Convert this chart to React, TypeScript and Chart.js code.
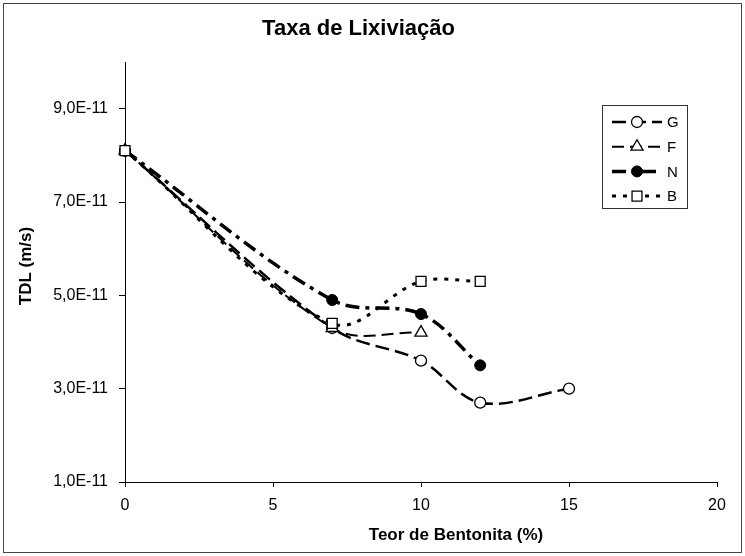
import React, { useEffect, useRef } from "react";
import { Chart, registerables } from "chart.js";

Chart.register(...registerables);

const chartTitle = "Taxa de Lixiviação";
const xAxisTitle = "Teor de Bentonita (%)";
const yAxisTitle = "TDL (m/s)";

const seriesNames = ["G", "F", "N", "B"];
const xG = [0, 7, 10, 12, 15];
const yG = [8.1e-11, 4.3e-11, 3.6e-11, 2.7e-11, 3.0e-11];
const xF = [0, 7, 10];
const yF = [8.1e-11, 4.3e-11, 4.2e-11];
const xN = [0, 7, 10, 12];
const yN = [8.1e-11, 4.9e-11, 4.6e-11, 3.5e-11];
const xB = [0, 7, 10, 12];
const yB = [8.1e-11, 4.4e-11, 5.3e-11, 5.3e-11];

const xTickValues = [0, 5, 10, 15, 20];
const xTickLabels = ["0", "5", "10", "15", "20"];
const yTickValues = [1e-11, 3e-11, 5e-11, 7e-11, 9e-11];
const yTickLabels = ["1,0E-11", "3,0E-11", "5,0E-11", "7,0E-11", "9,0E-11"];

const FONT = '"Liberation Sans", Arial, Helvetica, sans-serif';

const toPoints = (xs: number[], ys: number[]) => xs.map((x, i) => ({ x, y: ys[i] }));

const frameAndTextPlugin = {
  id: "frameAndText",
  beforeDraw(chart: any) {
    const ctx = chart.ctx;
    ctx.save();
    ctx.fillStyle = "#fff";
    ctx.fillRect(0, 0, chart.width, chart.height);
    ctx.strokeStyle = "#444";
    ctx.lineWidth = 1;
    ctx.strokeRect(3.5, 3.5, chart.width - 7, chart.height - 7);
    ctx.restore();
  },
  afterDraw(chart: any) {
    const ctx = chart.ctx;
    ctx.save();
    ctx.fillStyle = "#000";
    ctx.font = `bold 17px ${FONT}`;
    ctx.textAlign = "center";
    ctx.textBaseline = "middle";
    ctx.fillText(xAxisTitle, 456, 535);
    ctx.save();
    ctx.translate(26, 266);
    ctx.rotate(-Math.PI / 2);
    ctx.fillText(yAxisTitle, 0, 0);
    ctx.restore();

    const bx = 602.5, by = 105.5, bw = 85, bh = 103;
    ctx.fillStyle = "#fff";
    ctx.fillRect(bx, by, bw, bh);
    ctx.strokeStyle = "#333";
    ctx.lineWidth = 1;
    ctx.strokeRect(bx, by, bw, bh);
    [0, 1, 2, 3].forEach((i) => {
      const ds: any = chart.data.datasets[i];
      const y = 122 + i * 24.7;
      ctx.save();
      ctx.strokeStyle = ds.borderColor;
      ctx.lineWidth = ds.borderWidth;
      ctx.setLineDash(ds.borderDash || []);
      ctx.beginPath();
      ctx.moveTo(612, y);
      ctx.lineTo(662, y);
      ctx.stroke();
      ctx.setLineDash([]);
      const mx = 637;
      const r = ds.pointRadius;
      ctx.lineWidth = ds.pointBorderWidth;
      ctx.strokeStyle = ds.pointBorderColor;
      ctx.fillStyle = ds.pointBackgroundColor;
      ctx.beginPath();
      if (ds.pointStyle === "circle") {
        ctx.arc(mx, y, r, 0, Math.PI * 2);
      } else if (ds.pointStyle === "triangle") {
        ctx.moveTo(mx, y - r);
        ctx.lineTo(mx + r * 0.866, y + r * 0.5);
        ctx.lineTo(mx - r * 0.866, y + r * 0.5);
        ctx.closePath();
      } else {
        const s = r * Math.SQRT1_2;
        ctx.rect(mx - s, y - s, 2 * s, 2 * s);
      }
      ctx.fill();
      ctx.stroke();
      ctx.fillStyle = "#000";
      ctx.font = `15px ${FONT}`;
      ctx.textAlign = "left";
      ctx.textBaseline = "middle";
      ctx.fillText(ds.label, 667, y + 1);
      ctx.restore();
    });
    ctx.restore();
  },
};

export default function App() {
  const canvasRef = useRef<HTMLCanvasElement | null>(null);

  useEffect(() => {
    const canvas = canvasRef.current;
    if (!canvas) return;
    const base = {
      borderColor: "#000",
      pointBorderColor: "#000",
      borderCapStyle: "butt",
      fill: false,
      tension: 0.35,
      showLine: true,
      clip: false,
    };
    const chart = new Chart(canvas, {
      type: "line",
      data: {
        datasets: [
          {
            ...base,
            label: seriesNames[0],
            data: toPoints(xG, yG),
            borderWidth: 2.5,
            borderDash: [14, 6],
            pointStyle: "circle",
            pointRadius: 5.5,
            pointBackgroundColor: "#fff",
            pointBorderWidth: 1.3,
            order: 3,
          },
          {
            ...base,
            label: seriesNames[1],
            data: toPoints(xF, yF),
            borderWidth: 2,
            borderDash: [12, 6],
            pointStyle: "triangle",
            pointRadius: 7,
            pointBackgroundColor: "#fff",
            pointBorderWidth: 1.3,
            order: 2,
          },
          {
            ...base,
            label: seriesNames[2],
            data: toPoints(xN, yN),
            borderWidth: 3.5,
            borderDash: [14, 6, 4, 6],
            pointStyle: "circle",
            pointRadius: 5.5,
            pointBackgroundColor: "#000",
            pointBorderWidth: 1,
            order: 1,
          },
          {
            ...base,
            label: seriesNames[3],
            data: toPoints(xB, yB),
            borderWidth: 3,
            borderDash: [4, 7],
            pointStyle: "rect",
            pointRadius: 7,
            pointBackgroundColor: "#fff",
            pointBorderWidth: 1.3,
            order: 0,
          },
        ] as any,
      },
      options: {
        responsive: false,
        animation: false,
        devicePixelRatio: 1,
        layout: { padding: { left: 0, right: 28, top: 0, bottom: 0 } },
        plugins: {
          legend: { display: false },
          tooltip: { enabled: false },
          title: {
            display: true,
            text: chartTitle,
            color: "#000",
            font: { family: FONT, size: 22, weight: "bold", lineHeight: 1.2 },
            padding: { top: 16, bottom: 19.6 },
          },
        },
        scales: {
          x: {
            type: "linear",
            min: 0,
            max: 20,
            afterBuildTicks: (s: any) => {
              s.ticks = xTickValues.map((v) => ({ value: v }));
            },
            afterFit: (s: any) => {
              s.height = 74;
            },
            ticks: {
              color: "#000",
              font: { family: FONT, size: 16 },
              padding: 9,
              maxRotation: 0,
              autoSkip: false,
              callback: (_v: any, i: number) => xTickLabels[i],
            },
            grid: { drawOnChartArea: false, drawTicks: true, tickLength: 5, color: "#000" },
            border: { color: "#000", width: 1 },
          },
          y: {
            type: "linear",
            min: 1e-11,
            max: 1e-10,
            afterBuildTicks: (s: any) => {
              s.ticks = yTickValues.map((v) => ({ value: v }));
            },
            afterFit: (s: any) => {
              s.width = 125;
            },
            ticks: {
              color: "#000",
              font: { family: FONT, size: 16 },
              padding: 11,
              autoSkip: false,
              callback: (_v: any, i: number) => yTickLabels[i],
            },
            grid: { drawOnChartArea: false, drawTicks: true, tickLength: 6, color: "#000" },
            border: { color: "#000", width: 1 },
          },
        },
      } as any,
      plugins: [frameAndTextPlugin],
    });
    return () => chart.destroy();
  }, []);

  return (
    <div style={{ position: "absolute", left: 0, top: 0, width: 745, height: 556, background: "#fff" }}>
      <canvas ref={canvasRef} width={745} height={556} style={{ display: "block", width: 745, height: 556 }} />
    </div>
  );
}
